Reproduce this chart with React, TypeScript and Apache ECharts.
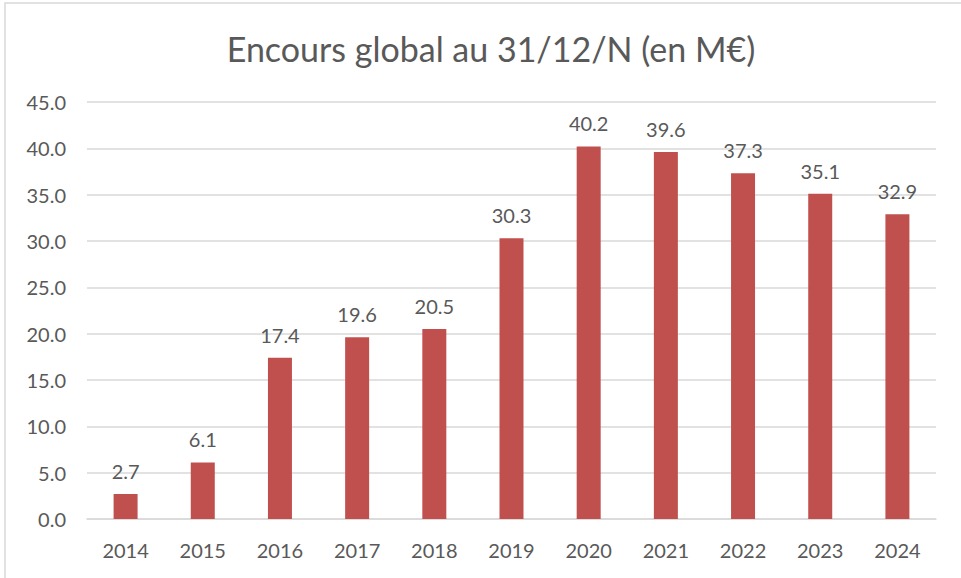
import React, { useEffect, useRef } from "react";
import * as echarts from "echarts";

const categories = ["2014", "2015", "2016", "2017", "2018", "2019", "2020", "2021", "2022", "2023", "2024"];
const values = [2.7, 6.1, 17.4, 19.6, 20.5, 30.3, 40.2, 39.6, 37.3, 35.1, 32.9];
const titleText = "Encours global au 31/12/N (en M€)";

export default function App() {
  const ref = useRef<HTMLDivElement>(null);
  useEffect(() => {
    document.body.style.margin = "0";
    const chart = echarts.init(ref.current!, null, { renderer: "svg" });
    const font = "Lato, 'Open Sans', sans-serif";
    chart.setOption({
      animation: false,
      backgroundColor: "#ffffff",
      title: {
        text: titleText,
        left: 486,
        textAlign: "center",
        top: 26,
        textStyle: { fontFamily: font, fontSize: 34, fontWeight: "normal", color: "#595959" },
      },
      graphic: [
        {
          type: "rect",
          shape: { x: 5, y: 3, width: 1000, height: 620 },
          style: { fill: "none", stroke: "#d9d9d9", lineWidth: 1.5 },
          silent: true,
        },
      ],
      grid: { left: 87, right: 25, top: 102, bottom: 59, containLabel: false },
      xAxis: {
        type: "category",
        data: categories,
        axisLine: { show: true, lineStyle: { color: "#d9d9d9", width: 1.5 } },
        axisTick: { show: false },
        axisLabel: { color: "#595959", fontFamily: font, fontSize: 20, margin: 21 },
      },
      yAxis: {
        type: "value",
        min: 0,
        max: 45,
        interval: 5,
        axisLine: { show: false },
        axisTick: { show: false },
        splitLine: { lineStyle: { color: "#d9d9d9", width: 1.5 } },
        axisLabel: {
          color: "#595959",
          fontFamily: font,
          fontSize: 20,
          margin: 21,
          formatter: (v: number) => v.toFixed(1),
        },
      },
      series: [
        {
          type: "bar",
          data: values,
          barWidth: 24,
          itemStyle: { color: "#C0504D" },
          label: {
            show: true,
            position: "top",
            distance: 13,
            color: "#595959",
            fontFamily: font,
            fontSize: 20,
            formatter: (p: any) => Number(p.value).toFixed(1),
          },
        },
      ],
    });
    return () => chart.dispose();
  }, []);
  return <div ref={ref} style={{ position: "fixed", left: 0, top: 0, width: 961, height: 578 }} />;
}
